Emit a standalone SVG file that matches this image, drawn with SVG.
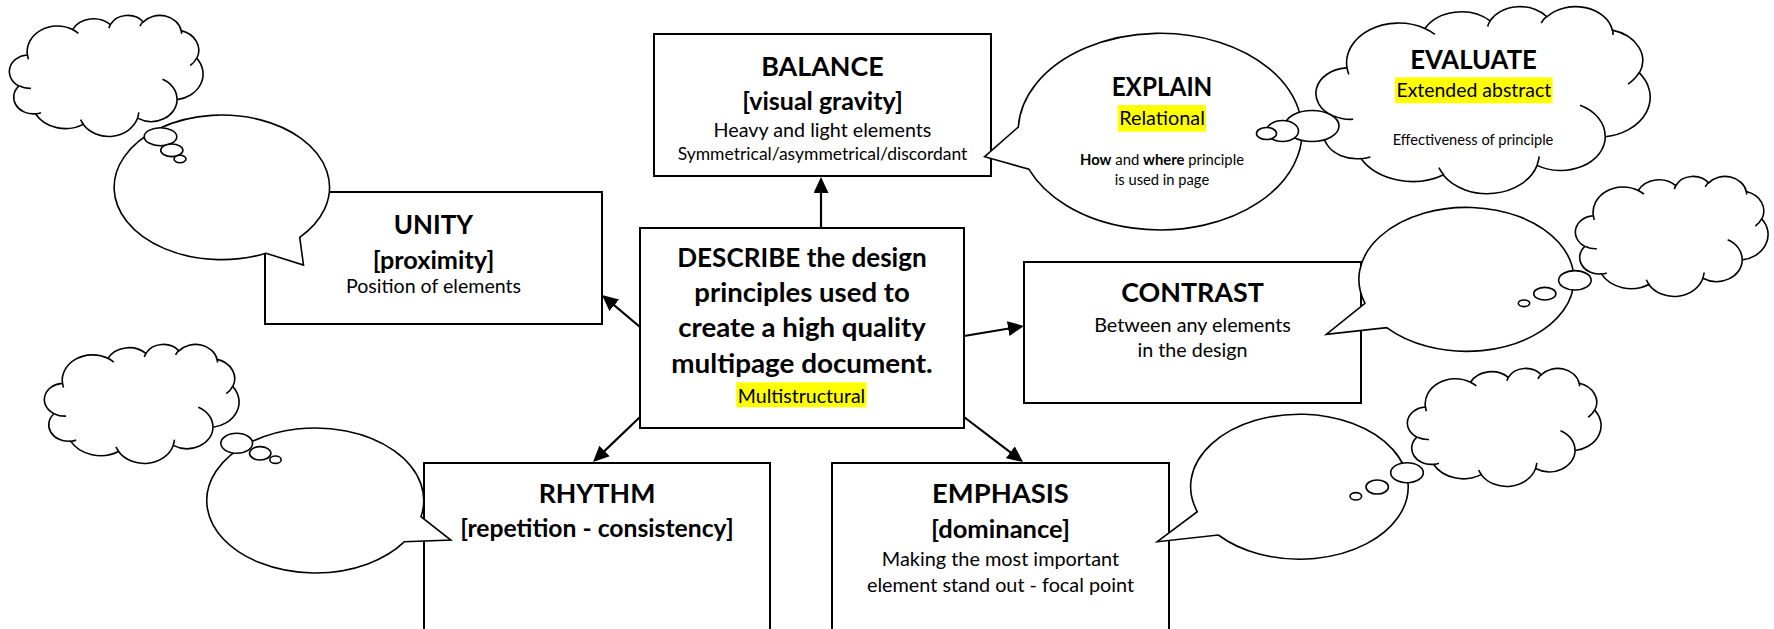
<svg xmlns="http://www.w3.org/2000/svg" xmlns:xlink="http://www.w3.org/1999/xlink" width="1774" height="629" viewBox="0 0 1774 629">
<style>
.box{fill:#fff;stroke:#000;stroke-width:2}
.bub{fill:#fff;stroke:#000;stroke-width:1.6}
.cl{fill:#fff;stroke:#000;stroke-width:1.6;vector-effect:non-scaling-stroke}
.ci{fill:none;stroke:#000;stroke-width:1.6;vector-effect:non-scaling-stroke}
.con{stroke:#000;stroke-width:2.2;fill:none}
.hl{fill:#ffff00}
text{font-family:Lato,"Liberation Sans",sans-serif;fill:#000;text-anchor:middle}
.h1{font-weight:700;font-size:27.5px}
.h2{font-weight:700;font-size:25px}
.d{font-weight:700;font-size:26.5px}
.r11{font-size:20px}
.r10{font-size:17.8px}
.s8{font-size:14.6px}
.bd{font-weight:700}
</style>
<defs>
<marker id="ah" viewBox="0 0 16 15" refX="13" refY="7.5" markerWidth="16" markerHeight="15" orient="auto" markerUnits="userSpaceOnUse"><path d="M0,0 L16,7.5 L0,15 Z" fill="#000"/></marker>
<g id="cloud">
<path class="cl" d="M3900 14370A6753 9190 0 0 1 14005 5202A5333 7267 0 0 1 22455 3432A4365 5945 0 0 1 29834 2483A4857 6595 0 0 1 38319 5578A5333 7273 0 0 1 41819 15462A6775 9220 0 0 1 37404 30203A5785 7867 0 0 1 28555 36812A6752 9215 0 0 1 16373 39039A7720 10543 0 0 1 5697 35247A4360 5918 0 0 1 2005 25327A4345 5945 0 0 1 3755 14284Z"/>
<path class="ci" d="M4693 26177A4345 5945 0 0 1 2159 25380M6928 34899A4360 5918 0 0 1 5819 35281M16478 39090A6752 9215 0 0 1 15809 37348M28827 34751A6752 9215 0 0 1 28560 36660M34129 22954A5785 7867 0 0 1 37381 30073M41798 15354A5333 7273 0 0 1 40349 18031M38324 5426A4857 6595 0 0 1 38400 6690M29078 3952A4857 6595 0 0 1 29820 2339M22141 4720A4365 5945 0 0 1 22500 3330M14000 5192A6753 9190 0 0 1 15299 6539M4127 15789A6753 9190 0 0 1 3900 14370"/>
</g>
</defs>
<rect width="1774" height="629" fill="#fff"/>

<g id="connectors">
<line class="con" x1="821" y1="228" x2="821" y2="180" marker-end="url(#ah)"/>
<line class="con" x1="640" y1="327" x2="604.3" y2="296.9" marker-end="url(#ah)"/>
<line class="con" x1="964" y1="336" x2="1021" y2="326.5" marker-end="url(#ah)"/>
<line class="con" x1="640" y1="417" x2="595.2" y2="459.9" marker-end="url(#ah)"/>
<line class="con" x1="964" y1="417" x2="1020.6" y2="460.2" marker-end="url(#ah)"/>
</g>

<g id="balance">
<rect class="box" x="654" y="34" width="337" height="142"/>
<text class="h1" x="822.5" y="76" textLength="122.5" lengthAdjust="spacingAndGlyphs">BALANCE</text>
<text class="h2" x="822.5" y="110" textLength="160.7" lengthAdjust="spacingAndGlyphs">[visual gravity]</text>
<text class="r11" x="822.5" y="136.7" textLength="217.8" lengthAdjust="spacingAndGlyphs">Heavy and light elements</text>
<text class="r10" x="822.5" y="160" textLength="289.7" lengthAdjust="spacingAndGlyphs">Symmetrical/asymmetrical/discordant</text>
</g>

<g id="describe">
<rect class="box" x="640" y="228" width="324" height="200"/>
<text class="d" x="802" y="266.7" textLength="249.5" lengthAdjust="spacingAndGlyphs">DESCRIBE the design</text>
<text class="d" x="802" y="301.7" textLength="215.5" lengthAdjust="spacingAndGlyphs">principles used to</text>
<text class="d" x="802" y="336.7" textLength="247.6" lengthAdjust="spacingAndGlyphs">create a high quality</text>
<text class="d" x="802" y="373.3" textLength="261.4" lengthAdjust="spacingAndGlyphs">multipage document.</text>
<rect class="hl" x="736.2" y="382.3" width="130.5" height="25"/>
<text class="r11" x="801.5" y="402.7" textLength="127.4" lengthAdjust="spacingAndGlyphs">Multistructural</text>
</g>

<g id="unity">
<rect class="box" x="265" y="192" width="337" height="132"/>
<text class="h1" x="433.5" y="234" textLength="79.3" lengthAdjust="spacingAndGlyphs">UNITY</text>
<text class="h2" x="433.5" y="269" textLength="121.7" lengthAdjust="spacingAndGlyphs">[proximity]</text>
<text class="r11" x="433.5" y="293" textLength="175" lengthAdjust="spacingAndGlyphs">Position of elements</text>
</g>

<g id="contrast">
<rect class="box" x="1024" y="262" width="337" height="141"/>
<text class="h1" x="1192.5" y="301.7" textLength="142.7" lengthAdjust="spacingAndGlyphs">CONTRAST</text>
<text class="r11" x="1192.5" y="331.7" textLength="196.7" lengthAdjust="spacingAndGlyphs">Between any elements</text>
<text class="r11" x="1192.5" y="356.7" textLength="110" lengthAdjust="spacingAndGlyphs">in the design</text>
</g>

<g id="rhythm">
<rect class="box" x="424" y="463" width="346" height="200"/>
<text class="h1" x="597" y="502.7" textLength="116.7" lengthAdjust="spacingAndGlyphs">RHYTHM</text>
<text class="h2" x="597" y="537.3" textLength="273.3" lengthAdjust="spacingAndGlyphs">[repetition - consistency]</text>
</g>

<g id="emphasis">
<rect class="box" x="832" y="463" width="337" height="200"/>
<text class="h1" x="1000.5" y="503.3" textLength="136.8" lengthAdjust="spacingAndGlyphs">EMPHASIS</text>
<text class="h2" x="1000.5" y="538.3" textLength="138.9" lengthAdjust="spacingAndGlyphs">[dominance]</text>
<text class="r11" x="1000.5" y="566" textLength="237.3" lengthAdjust="spacingAndGlyphs">Making the most important</text>
<text class="r11" x="1000.5" y="591.7" textLength="267.1" lengthAdjust="spacingAndGlyphs">element stand out - focal point</text>
</g>

<g id="unity-bubble">
<path class="bub" d="M266,253.3 A107.7,72.3 0 1 1 299.7,237.3 L303.5,265 Z"/>
</g>
<g id="rhythm-bubble">
<path class="bub" d="M404.5,541.7 A108.5,72.5 0 1 1 421,516.7 L450.8,540 Z"/>
</g>
<g id="contrast-bubble">
<path class="bub" d="M1386.7,327.7 A107.5,72 0 1 0 1365,303.3 L1326.3,334.3 Z"/>
</g>
<g id="emphasis-bubble">
<path class="bub" d="M1218.3,535 A108.8,72.5 0 1 0 1197.3,511.7 L1157.3,541.7 Z"/>
</g>
<g id="explain">
<path class="bub" d="M1029,169.3 A142,98.3 0 1 0 1018.3,127 L984.6,156.7 Z"/>
<text class="h1" x="1162" y="96" textLength="100.7" lengthAdjust="spacingAndGlyphs">EXPLAIN</text>
<rect class="hl" x="1117.7" y="105" width="88.3" height="26.7"/>
<text class="r11" x="1162" y="125" textLength="85.7" lengthAdjust="spacingAndGlyphs">Relational</text>
<text class="s8" x="1162" y="165" textLength="164" lengthAdjust="spacingAndGlyphs"><tspan class="bd">How</tspan> and <tspan class="bd">where</tspan> principle</text>
<text class="s8" x="1162" y="185" textLength="94.3" lengthAdjust="spacingAndGlyphs">is used in page</text>
</g>

<g id="evaluate">
<use xlink:href="#cloud" href="#cloud" transform="translate(1317,6) scale(0.0077083,0.0043287)"/>
<ellipse class="bub" cx="1312" cy="126" rx="27" ry="15.5"/>
<ellipse class="bub" cx="1282.5" cy="131" rx="16" ry="10.5"/>
<ellipse class="bub" cx="1266.5" cy="133.5" rx="10" ry="6"/>
<text class="h1" x="1473.5" y="69.3" textLength="126.7" lengthAdjust="spacingAndGlyphs">EVALUATE</text>
<rect class="hl" x="1395" y="77.3" width="157.7" height="26"/>
<text class="r11" x="1473.8" y="97.3" textLength="154.7" lengthAdjust="spacingAndGlyphs">Extended abstract</text>
<text class="s8" x="1473" y="145" textLength="160.7" lengthAdjust="spacingAndGlyphs">Effectiveness of principle</text>
</g>

<g id="cloud-unity">
<use xlink:href="#cloud" href="#cloud" transform="translate(10,15) scale(0.0044676,0.0028009)"/>
<ellipse class="bub" cx="160.5" cy="136.7" rx="16.3" ry="9"/>
<ellipse class="bub" cx="171.8" cy="150.3" rx="11.1" ry="6.3"/>
<ellipse class="bub" cx="180" cy="159" rx="6" ry="3.7"/>
</g>
<g id="cloud-rhythm">
<use xlink:href="#cloud" href="#cloud" transform="translate(45,344) scale(0.0044907,0.0027546)"/>
<ellipse class="bub" cx="236.7" cy="443.3" rx="15.9" ry="10"/>
<ellipse class="bub" cx="260.2" cy="453.3" rx="10.7" ry="6.7"/>
<ellipse class="bub" cx="275.5" cy="459.7" rx="5.7" ry="3.7"/>
</g>
<g id="cloud-contrast">
<use xlink:href="#cloud" href="#cloud" transform="translate(1576,176) scale(0.0044444,0.0027778)"/>
<ellipse class="bub" cx="1574.9" cy="280.3" rx="16.3" ry="9.7"/>
<ellipse class="bub" cx="1544.8" cy="293.7" rx="11.1" ry="6.3"/>
<ellipse class="bub" cx="1524" cy="303.3" rx="5.7" ry="3.3"/>
</g>
<g id="cloud-emphasis">
<use xlink:href="#cloud" href="#cloud" transform="translate(1408,368) scale(0.0044676,0.0027315)"/>
<ellipse class="bub" cx="1407" cy="472.7" rx="16.3" ry="10"/>
<ellipse class="bub" cx="1377.2" cy="487" rx="11.2" ry="7"/>
<ellipse class="bub" cx="1355.8" cy="496.3" rx="5.8" ry="3.7"/>
</g>
</svg>
